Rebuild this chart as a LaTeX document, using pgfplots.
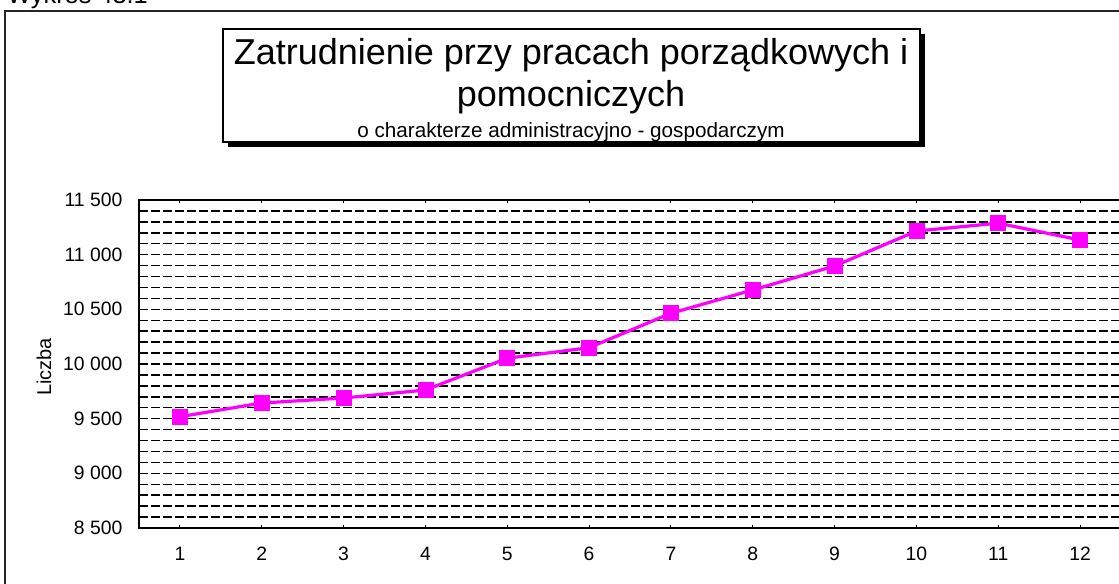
\documentclass[border=0pt]{standalone}
\usepackage{fontspec}
\setmainfont{Liberation Sans}
\usepackage{pgfplots}
\pgfplotsset{compat=1.18}
\definecolor{mag}{RGB}{255,0,255}
\begin{document}
\begin{tikzpicture}
\useasboundingbox (0,0) rectangle (839.25pt,438pt);
\clip (0,0) rectangle (839.25pt,438pt);
\fill[white] (0,0) rectangle (839.25pt,438pt);
% page header
\node[anchor=base west, inner sep=0pt, font=\fontsize{19}{21}\selectfont] at (5.25pt,435pt) {Wykres 43.1};
% outer frame
\draw[line width=1.5pt, black!85] (3.75pt,429.75pt) rectangle (845pt,-5pt);
% title box with shadow
\fill[black] (171pt,412.5pt) rectangle (693.75pt,327.75pt);
\draw[fill=white, line width=1.1pt] (167.25pt,416.25pt) rectangle (690pt,331.5pt);
\node[anchor=base, inner sep=0pt, font=\fontsize{27}{30}\selectfont] at (428.25pt,389.25pt) {Zatrudnienie przy pracach porządkowych i};
\node[anchor=base, inner sep=0pt, font=\fontsize{27}{30}\selectfont] at (428.25pt,357.75pt) {pomocniczych};
\node[anchor=base, inner sep=0pt, font=\fontsize{15.5}{17}\selectfont] at (428.25pt,334.5pt) {o charakterze administracyjno - gospodarczym};
\begin{axis}[
  at={(104.25pt,42pt)}, anchor=south west,
  scale only axis, width=736.5pt, height=246pt,
  xmin=0.5, xmax=12.5, ymin=8500, ymax=11500,
  xtick={1,...,12},
  ytick={8500,9000,9500,10000,10500,11000,11500},
  yticklabels={8 500,9 000,9 500,10 000,10 500,11 000,11 500},
  scaled y ticks=false,
  minor y tick num=4,
  ymajorgrids, yminorgrids,
  major grid style={black, line width=1.1pt, dash pattern=on 7pt off 2pt},
  minor grid style={black, line width=1.1pt, dash pattern=on 7pt off 2pt},
  axis line style={black, line width=1.5pt},
  ytick style={draw=none},
  minor y tick style={draw=none},
  xtick style={black, line width=0.8pt},
  xtick align=inside,
  major tick length=2.5pt,
  tick label style={font=\fontsize{14.5}{16}\selectfont},
  yticklabel style={anchor=east, xshift=-9pt},
  xticklabel style={anchor=north, yshift=-11pt},
  ylabel={Liczba},
  every axis y label/.style={at={(axis description cs:-0.0967,0.491)}, rotate=90, anchor=center, font=\fontsize{15}{17}\selectfont},
  /pgf/number format/assume math mode=true,
  clip=false,
]
\addplot[mag, line width=2.4pt, mark=square*, mark size=5.6pt, mark options={fill=mag, draw=mag, line width=0.5pt, solid}]
coordinates {
(1,9518) (2,9643) (3,9689) (4,9762) (5,10053) (6,10149)
(7,10464) (8,10677) (9,10896) (10,11216) (11,11288) (12,11134)
};
\end{axis}
\end{tikzpicture}
\end{document}
